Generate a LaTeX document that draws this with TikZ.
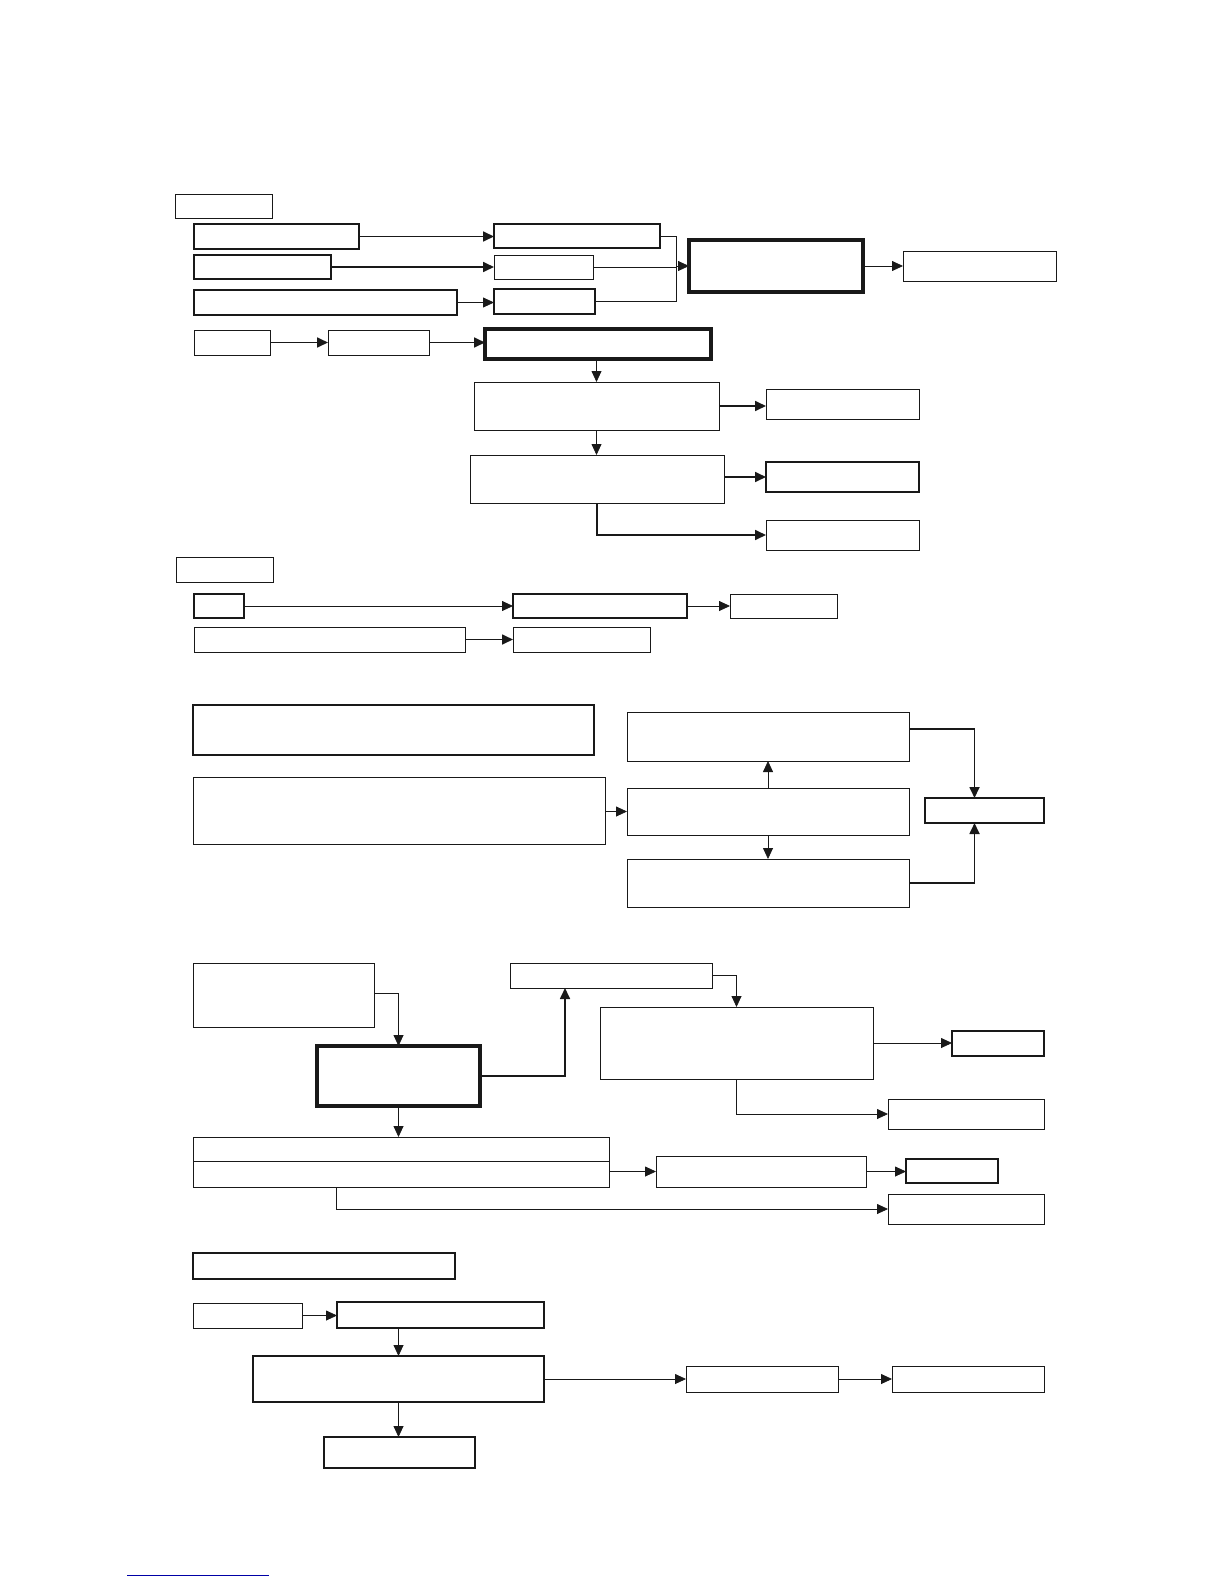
\documentclass[tikz,border=0pt]{standalone}
\usetikzlibrary{arrows.meta,calc}
\tikzset{
  box/.style={draw=black!90, line width=0.8pt, inner sep=0pt, outer sep=0pt, fill=white},
  boxm/.style={box, line width=1.2pt},
  boxk/.style={box, line width=3.6pt},
  arr/.style={draw=black!90, line width=0.8pt, -{Triangle[length=11pt,width=10pt]}},
  arrk/.style={arr, line width=1.7pt},
  ln/.style={draw=black!90, line width=0.8pt},
}
\newcommand\rbox[6][]{\node[box,#1,anchor=north west,minimum width={(#5-#3)*1pt},minimum height={(#6-#4)*1pt}] (#2) at (#3,#4) {};}
\begin{document}
\begin{tikzpicture}[x=1pt,y=-1pt]
\useasboundingbox (0,0) rectangle (1224,1584);
% ---------- section 1 ----------
\rbox{A1}{175}{194}{272}{218}
\rbox[boxm]{B1}{194}{224}{359}{249}
\rbox[boxm]{B2}{194}{255}{331}{279}
\rbox[boxm]{B3}{194}{290}{457}{315}
\rbox[boxm]{C1}{494}{224}{660}{248}
\rbox{C2}{494}{255}{593}{279}
\rbox[boxm]{C3}{494}{289}{595}{314}
\rbox[boxk]{D}{689}{240}{863}{292}
\rbox{E}{903}{251}{1056}{281}
\rbox{F1}{194}{330}{270}{355}
\rbox{F2}{328}{330}{429}{355}
\rbox[boxk]{G}{485}{329}{711}{359}
\rbox{H}{474}{382}{719}{430}
\rbox{I}{766}{389}{919}{419}
\rbox{J}{470}{455}{724}{503}
\rbox[boxm]{K}{766}{462}{919}{492}
\rbox{L}{766}{520}{919}{550}
\draw[arrk] (B1.east) -- (B1.east -| C1.west);
\draw[arrk] (B2.east) -- (B2.east -| C2.west);
\draw[arr] (B3.east) -- (B3.east -| C3.west);
\coordinate (br) at (676,266);
\draw[ln] (C1.east) -| (br);
\draw[ln] (C3.east) -| (br);
\draw[ln] (C2.east) -- (C2.east -| br);
\draw[arr] (br) -- (br -| D.west);
\draw[arr] (D.east) -- (D.east -| E.west);
\draw[arrk] (F1.east) -- (F1.east -| F2.west);
\draw[arrk] (F2.east) -- (F2.east -| G.west);
\draw[arr] (G.south -| H.north) -- (H.north);
\draw[arrk] (H.east) -- (H.east -| I.west);
\draw[arr] (H.south) -- (H.south |- J.north);
\draw[arrk] (J.east |- K.west) -- (K.west);
\draw[arrk] (J.south) |- (L.west);
% ---------- section 2 ----------
\rbox{M}{176}{557}{273}{582}
\rbox[boxm]{N1}{194}{594}{244}{618}
\rbox[boxm]{O1}{513}{594}{687}{618}
\rbox{P1}{730}{594}{837}{618}
\rbox{N2}{194}{627}{465}{652}
\rbox{O2}{513}{627}{650}{652}
\draw[arr] (N1.east) -- (N1.east -| O1.west);
\draw[arr] (O1.east) -- (O1.east -| P1.west);
\draw[arrk] (N2.east) -- (N2.east -| O2.west);
% ---------- section 3 ----------
\rbox[boxm]{Q1}{193}{705}{594}{755}
\rbox{Q2}{193}{777}{605}{844}
\rbox{R1}{627}{712}{909}{761}
\rbox{R2}{627}{788}{909}{835}
\rbox{R3}{627}{859}{909}{907}
\rbox[boxm]{S}{925}{798}{1044}{823}
\draw[arr] (Q2.east |- R2.west) -- (R2.west);
\draw[arr] (R2.north) -- (R1.south);
\draw[arr] (R2.south) -- (R3.north);
\draw[arrk] ($(R1.north east)!0.35!(R1.south east)$) -| ([xshift=-10pt]S.north);
\draw[arrk] (R3.east) -| ([xshift=-10pt]S.south);
% ---------- section 4 ----------
\rbox{T}{193}{963}{374}{1027}
\rbox[boxk]{U}{317}{1046}{480}{1106}
\rbox{V}{510}{963}{712}{988}
\rbox{W}{600}{1007}{873}{1079}
\rbox[boxm]{X}{952}{1031}{1044}{1056}
\rbox{Y}{888}{1099}{1044}{1129}
\rbox{Z1}{193}{1137}{609}{1161}
\rbox{Z2}{193}{1161}{609}{1187}
\rbox{AA}{656}{1156}{866}{1187}
\rbox[boxm]{AB}{906}{1159}{998}{1183}
\rbox{AC}{888}{1194}{1044}{1224}
\draw[arr] ($(T.north east)!0.47!(T.south east)$) -| (U.north);
\draw[arrk] (U.east) -| ($(V.south west)+(55,0)$);
\draw[arr] (V.east) -| (W.north);
\draw[arr] (W.east) -- (W.east -| X.west);
\draw[arr] (W.south) |- (Y.west);
\draw[arr] (U.south) -- (U.south |- Z1.north);
\draw[arr] (Z2.east |- AA.west) -- (AA.west);
\draw[arr] (AA.east) -- (AA.east -| AB.west);
\draw[arr] ($(Z2.south west)+(143,0)$) |- (AC.west);
% ---------- section 5 ----------
\rbox[boxm]{BA}{193}{1253}{455}{1279}
\rbox{BB}{193}{1303}{302}{1328}
\rbox[boxm]{BC}{337}{1302}{544}{1328}
\rbox[boxm]{BD}{253}{1356}{544}{1402}
\rbox{BE}{686}{1366}{838}{1392}
\rbox{BF}{892}{1366}{1044}{1392}
\rbox[boxm]{BG}{324}{1437}{475}{1468}
\draw[arr] (BB.east) -- (BB.east -| BC.west);
\draw[arr] (BD.north |- BC.south) -- (BD.north);
\draw[arr] (BD.east |- BE.west) -- (BE.west);
\draw[arr] (BE.east) -- (BE.east -| BF.west);
\draw[arr] (BD.south) -- (BD.south |- BG.north);
% ---------- footer line ----------
\draw[blue!65!black, line width=0.9pt] (127,1575) -- (269,1575);
\end{tikzpicture}
\end{document}
